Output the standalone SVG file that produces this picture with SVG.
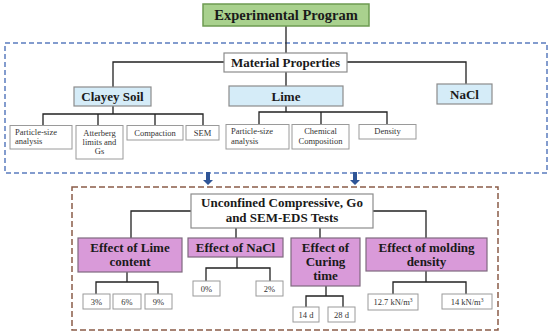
<svg xmlns="http://www.w3.org/2000/svg" width="550" height="335" viewBox="0 0 550 335">
<style>
.b{font-family:"Liberation Serif","Times New Roman",serif;font-weight:bold;fill:#1a1a1a;text-anchor:middle}
.s{font-family:"Liberation Serif","Times New Roman",serif;font-size:8.5px;fill:#333;text-anchor:middle}
.sl{text-anchor:start}
.green{fill:#a9d18e;stroke:#6e9b52;stroke-width:1.5}
.white{fill:#fff;stroke:#8c8c8c;stroke-width:1.2}
.blue{fill:#d5ecf8;stroke:#8c8c8c;stroke-width:1.2}
.purple{fill:#d99ad9;stroke:#7f6a7f;stroke-width:1.2}
.small{fill:#fff;stroke:#9a9a9a;stroke-width:1}
.ln{fill:none;stroke:#222;stroke-width:1.3}
</style>
<rect width="550" height="335" fill="#fff"/>
<rect x="5" y="43" width="542" height="130" fill="none" stroke="#5b7cbf" stroke-width="1.5" stroke-dasharray="5 3"/>
<rect x="72" y="187" width="426" height="143" fill="none" stroke="#8a5c48" stroke-width="1.5" stroke-dasharray="6 3"/>
<g id="connectors">
<path class="ln" d="M286 26V53M224 62H113V87M347 62H466V84M286 72V86"/>
<path class="ln" d="M113 106V114M43 125V114H203V125M98 114V125M155 114V125"/>
<path class="ln" d="M286 106V112M259 124V112H387V124M321 112V124"/>
<path class="ln" d="M191 211H131V238M373 211H426V238M236 228V238M320 228V238"/>
<path class="ln" d="M127 272V282M96 294V282H158V294"/>
<path class="ln" d="M237 257V268M206 281V268H270V281"/>
<path class="ln" d="M326 286V296M306 307V296H343V307"/>
<path class="ln" d="M426 271V282M393 294V282H466V294"/>
<path d="M206 172H210V180H213L208 185L203 180H206Z" fill="#2f5597"/>
<path d="M353 172H357V180H360L355 185L350 180H353Z" fill="#2f5597"/>
</g>
<g id="title"><rect class="green" x="203" y="4" width="166" height="22"/><text class="b" x="286" y="20" font-size="14.5">Experimental Program</text></g>
<g id="material"><rect class="white" x="224" y="53" width="123" height="19"/><text class="b" x="285.5" y="67" font-size="13">Material Properties</text></g>
<g id="clayey"><rect class="blue" x="74" y="87" width="77" height="19"/><text class="b" x="112.5" y="101" font-size="13">Clayey Soil</text></g>
<g id="lime"><rect class="blue" x="229" y="86" width="114" height="20"/><text class="b" x="286" y="100.5" font-size="13">Lime</text></g>
<g id="nacl"><rect class="blue" x="437" y="84" width="55" height="20"/><text class="b" x="464.5" y="98.5" font-size="13">NaCl</text></g>
<g id="soil-psa"><rect class="small" x="10" y="125.5" width="62" height="23.5"/><text class="s sl" x="15" y="135">Particle-size</text><text class="s sl" x="15" y="144">analysis</text></g>
<g id="atterberg"><rect class="small" x="76" y="125.5" width="47" height="33.5"/><text class="s" x="99.5" y="136">Atterberg</text><text class="s" x="99.5" y="145">limits and</text><text class="s" x="99.5" y="154">Gs</text></g>
<g id="compaction"><rect class="small" x="127" y="125.5" width="56" height="14.5"/><text class="s" x="155" y="135.5">Compaction</text></g>
<g id="sem"><rect class="small" x="186" y="125.5" width="33" height="14.5"/><text class="s" x="202.5" y="135.5">SEM</text></g>
<g id="lime-psa"><rect class="small" x="226" y="124.5" width="63" height="24.5"/><text class="s sl" x="231" y="134">Particle-size</text><text class="s sl" x="231" y="143.5">analysis</text></g>
<g id="chemical"><rect class="small" x="292" y="124.5" width="57" height="24.5"/><text class="s" x="320.5" y="134">Chemical</text><text class="s" x="320.5" y="143.5">Composition</text></g>
<g id="density"><rect class="small" x="359" y="124.5" width="57" height="14.5"/><text class="s" x="387.5" y="134">Density</text></g>
<g id="tests"><rect class="white" x="191" y="194" width="182" height="34"/><text class="b" x="282" y="207" font-size="13">Unconfined Compressive, Go</text><text class="b" x="282" y="222" font-size="13">and SEM-EDS Tests</text></g>
<g id="eff-lime"><rect class="purple" x="78" y="238" width="104" height="34"/><text class="b" x="130" y="252" font-size="13">Effect of Lime</text><text class="b" x="130" y="266" font-size="13">content</text></g>
<g id="eff-nacl"><rect class="purple" x="188" y="238" width="95" height="19"/><text class="b" x="235.5" y="252" font-size="13">Effect of NaCl</text></g>
<g id="eff-curing"><rect class="purple" x="291" y="238" width="69" height="48"/><text class="b" x="325.5" y="252" font-size="13">Effect of</text><text class="b" x="325.5" y="266" font-size="13">Curing</text><text class="b" x="325.5" y="280" font-size="13">time</text></g>
<g id="eff-molding"><rect class="purple" x="366" y="238" width="121" height="33"/><text class="b" x="426.5" y="252" font-size="13">Effect of molding</text><text class="b" x="426.5" y="266" font-size="13">density</text></g>
<g id="p3"><rect class="small" x="83" y="294" width="27" height="15"/><text class="s" x="96.5" y="304.5">3%</text></g>
<g id="p6"><rect class="small" x="113" y="294" width="28" height="15"/><text class="s" x="127" y="304.5">6%</text></g>
<g id="p9"><rect class="small" x="145" y="294" width="27" height="15"/><text class="s" x="158.5" y="304.5">9%</text></g>
<g id="n0"><rect class="small" x="193" y="281" width="27" height="15"/><text class="s" x="206.5" y="291.5">0%</text></g>
<g id="n2"><rect class="small" x="256" y="281" width="27" height="15"/><text class="s" x="269.5" y="291.5">2%</text></g>
<g id="d14"><rect class="small" x="293" y="307" width="26" height="15"/><text class="s" x="306" y="317.5">14 d</text></g>
<g id="d28"><rect class="small" x="328" y="307" width="27" height="15"/><text class="s" x="341.5" y="317.5">28 d</text></g>
<g id="m127"><rect class="small" x="368" y="294" width="50" height="16"/><text class="s" x="393" y="305">12.7 kN/m<tspan font-size="5.5" dy="-3">3</tspan></text></g>
<g id="m14"><rect class="small" x="442" y="294" width="50" height="15"/><text class="s" x="467" y="304.5">14 kN/m<tspan font-size="5.5" dy="-3">3</tspan></text></g>
</svg>
